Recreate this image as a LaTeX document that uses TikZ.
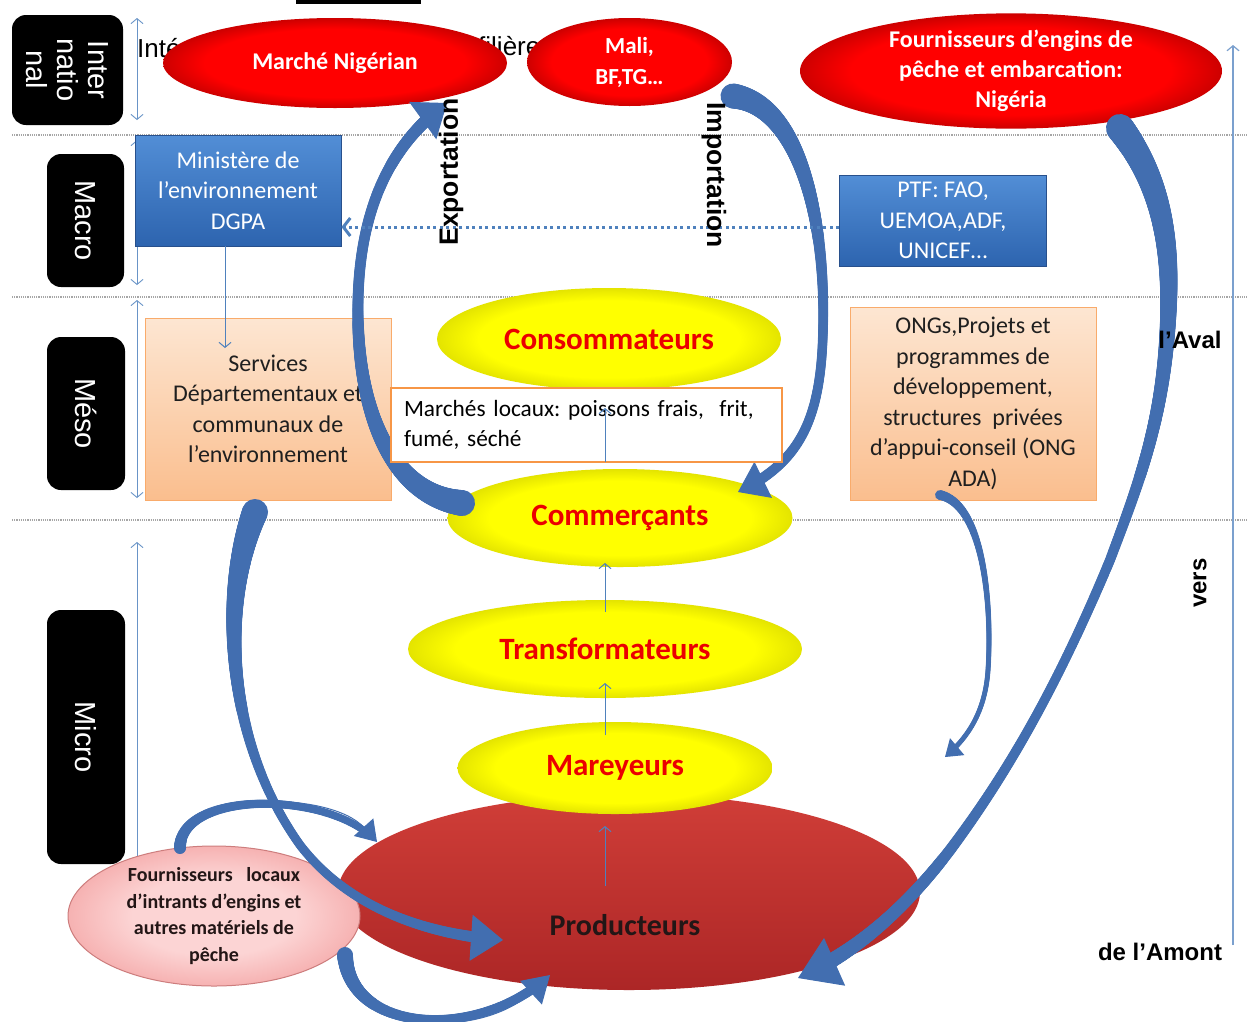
\documentclass[tikz,border=0pt]{standalone}
\usepackage{fontspec}
\setmainfont{Carlito}
\newfontfamily\arialf{Liberation Sans}
\usetikzlibrary{shapes.geometric,arrows.meta,decorations.markings}
\frenchspacing
\definecolor{bigblue}{RGB}{66,110,176}
\definecolor{thinblue}{RGB}{79,129,189}
\definecolor{redA}{RGB}{255,0,0}
\definecolor{redB}{RGB}{205,0,0}
\definecolor{yelA}{RGB}{255,255,0}
\definecolor{yelB}{RGB}{228,228,0}
\definecolor{txtred}{RGB}{235,0,0}
\definecolor{prodA}{RGB}{208,62,56}
\definecolor{prodB}{RGB}{172,38,38}
\definecolor{pinkA}{RGB}{252,212,212}
\definecolor{pinkB}{RGB}{246,178,178}
\definecolor{pinkE}{RGB}{205,125,125}
\definecolor{boxblueA}{RGB}{82,142,214}
\definecolor{boxblueB}{RGB}{45,100,175}
\definecolor{boxblueE}{RGB}{40,80,140}
\definecolor{peachA}{RGB}{253,230,210}
\definecolor{peachB}{RGB}{250,190,142}
\definecolor{orangeE}{RGB}{247,150,70}
\definecolor{darktxt}{RGB}{35,22,22}
\pgfdeclareradialshading{redglow}{\pgfpoint{0bp}{0bp}}{color(0bp)=(redA); color(19bp)=(redA); color(25bp)=(redB); color(50bp)=(redB)}
\pgfdeclareradialshading{yelglow}{\pgfpoint{0bp}{0bp}}{color(0bp)=(yelA); color(19bp)=(yelA); color(25bp)=(yelB); color(50bp)=(yelB)}
\pgfdeclareradialshading{pinkglow}{\pgfpoint{0bp}{0bp}}{color(0bp)=(pinkA); color(14bp)=(pinkA); color(25bp)=(pinkB); color(50bp)=(pinkB)}
\begin{document}
\begin{tikzpicture}[x=1pt,y=-1pt,
  sepline/.style={draw=gray!70, line width=1.2pt, densely dotted},
  lvlarrow/.style={draw=thinblue!85, line width=0.9pt, {Straight Barb[length=5pt,width=12pt]}-{Straight Barb[length=5pt,width=12pt]}},
  thinarrow/.style={draw=thinblue, line width=1pt, -{Straight Barb[length=5pt,width=12pt]}},
  dotarrow/.style={draw=thinblue, line width=3pt, dash pattern=on 3pt off 3.5pt, -{Straight Barb[length=7pt,width=18pt]}},
  lvlbox/.style={fill=black, rounded corners=14pt, text=white, rotate=-90, align=center, inner sep=0pt, font=\arialf\fontsize{29}{31}\selectfont},
  redell/.style={ellipse, inner sep=0pt, shade, shading=redglow, text=white, align=center, font=\bfseries\fontsize{24}{30}\selectfont},
  yelell/.style={ellipse, inner sep=0pt, shade, shading=yelglow, text=txtred, align=center, font=\bfseries\fontsize{31}{36}\selectfont},
  pinkell/.style={ellipse, inner sep=0pt, shade, shading=pinkglow, draw=pinkE, line width=1pt, text=darktxt, align=center, font=\bfseries\fontsize{20}{26.5}\selectfont},
  prodell/.style={ellipse, inner sep=0pt, top color=prodA, bottom color=prodB},
  bluebox/.style={rectangle, inner sep=0pt, top color=boxblueA, bottom color=boxblueB, draw=boxblueE, line width=0.8pt, text=white, align=center, font=\fontsize{24}{30.5}\selectfont},
  peachbox/.style={rectangle, inner sep=0pt, top color=peachA, bottom color=peachB, draw=orangeE!80, line width=0.8pt, text=black!88, align=center, font=\fontsize{24}{30.5}\selectfont},
  mlocbox/.style={rectangle, fill=white, draw=orangeE, line width=2.5pt, text width=365pt, align=left, inner xsep=13pt, inner ysep=0pt, font=\fontsize{23.3}{30}\selectfont},
  arialbold/.style={inner sep=0pt, font=\arialf\bfseries\fontsize{26.5}{30}\selectfont},
  arialreg/.style={inner sep=0pt, font=\arialf\fontsize{26}{30}\selectfont},
  bigarrow/.style={draw=bigblue, line width=1pt},
  taper/.style n args={4}{postaction={decorate, decoration={markings,
     mark=between positions 0 and -#4 step 1pt with {
       \pgfmathsetmacro\tpos{\pgfkeysvalueof{/pgf/decoration/mark info/distance from start}/\pgfdecoratedpathlength}
       \pgfmathsetmacro\trad{0.5*(#2+(#1-#2)*(1-\tpos)^4+(#3-#2)*\tpos^4)}
       \fill[bigblue] (0,0) circle[radius=\trad pt];
     }}}}
]
\useasboundingbox (0,0) rectangle (1247,1021);
\fill[white] (0,0) rectangle (1247,1021);

% level separators
\draw[sepline] (12,135) -- (1247,135);
\draw[sepline] (12,297) -- (1247,297);
\draw[sepline] (12,520) -- (1247,520);

% cut-off title remnants
\fill[black] (296,0) rectangle (421,4);
\node[arialreg, anchor=base west] (tint) at (137,57) {Inté};
\node[arialreg, anchor=base west] (tfil) at (478,55) {filière};

% level arrows
\draw[lvlarrow] (137,18) -- (137,120);
\draw[lvlarrow] (137,140) -- (137,285);
\draw[lvlarrow] (137,300) -- (137,498);
\draw[lvlarrow] (137,542) -- (137,900);
\draw[thinblue!75, line width=1.2pt, -{Straight Barb[length=5pt,width=12pt]}] (1233,945) -- (1233,45);

% level labels
\node[lvlbox, minimum width=110pt, minimum height=111pt] (lint) at (67.5,70) {Inter\\natio\\nal};
\node[lvlbox, minimum width=133pt, minimum height=77pt] (lmac) at (85.5,220.5) {Macro};
\node[lvlbox, minimum width=153pt, minimum height=78pt] (lmes) at (86,413.5) {Méso};
\node[lvlbox, minimum width=254pt, minimum height=78pt] (lmic) at (86,737) {Micro};

% international actors
\node[redell, minimum width=344pt, minimum height=90pt] (nig) at (335,63) {Marché Nigérian};
\node[redell, minimum width=205pt, minimum height=88pt, font=\bfseries\fontsize{23}{31}\selectfont] (mali) at (629.5,62) {Mali,\\BF,TG…};
\node[redell, minimum width=422pt, minimum height=107pt] (fourn) at (1011,71) {Fournisseurs d’engins de\\pêche et embarcation:\\Nigéria};

% macro
\node[bluebox, minimum width=206pt, minimum height=111pt] (min) at (238,190.5) {Ministère de\\l’environnement\\DGPA};
\node[bluebox, minimum width=207pt, minimum height=91pt] (ptf) at (943,220.5) {PTF: FAO,\\UEMOA,ADF,\\UNICEF…};

% meso
\node[peachbox, minimum width=246pt, minimum height=182pt] (serv) at (268,409) {Services\\Départementaux et\\communaux de\\l’environnement};
\node[peachbox, minimum width=246pt, minimum height=193pt] (ong) at (973,403.5) {ONGs,Projets et\\programmes de\\développement,\\structures~ privées\\d’appui-conseil (ONG\\ADA)};

% chain
\node[prodell, minimum width=582pt, minimum height=196pt] (prod) at (629,892) {};
\node[inner sep=0pt, text=darktxt, font=\bfseries\fontsize{30}{34}\selectfont] (prodlbl) at (625,925) {Producteurs};
\node[pinkell, minimum width=292pt, minimum height=140pt] (four) at (214,916) {Fournisseurs~~ locaux\\d’intrants d’engins et\\autres matériels de\\pêche};
\node[yelell, minimum width=344pt, minimum height=102pt] (cons) at (609,339) {Consommateurs};
\node[yelell, minimum width=345pt, minimum height=98pt] (comm) at (620,518) {Commerçants};
\node[yelell, minimum width=394pt, minimum height=98pt] (trans) at (605,649) {Transformateurs};
\node[yelell, minimum width=315pt, minimum height=92pt] (mar) at (615,768) {Mareyeurs};

% big curved arrows
\coordinate (a1s) at (462,503); \coordinate (a1e) at (447,103);
\draw[bigarrow, -{Triangle[length=30pt,width=46pt]}, taper={26}{10}{13}{18pt}]
  (a1s) .. controls (395,495) and (360,420) .. (358,320) .. controls (356,220) and (385,148) .. (a1e);
\coordinate (a2s) at (733,96); \coordinate (a2e) at (738,492);
\draw[bigarrow, -{Triangle[length=28pt,width=40pt]}, taper={25}{9}{11}{16pt}]
  (a2s) .. controls (800,105) and (826,220) .. (823,330) .. controls (821,420) and (800,462) .. (a2e);
\coordinate (a3s) at (1120,128); \coordinate (a3e) at (798,978);
\draw[bigarrow, -{Triangle[length=40pt,width=52pt]}, taper={28}{8}{16}{24pt}]
  (a3s) .. controls (1160,180) and (1172,240) .. (1168,320) .. controls (1163,420) and (1140,480) .. (1110,560)
  .. controls (1060,680) and (1010,770) .. (950,850) .. controls (900,915) and (850,955) .. (a3e);
\coordinate (a4s) at (940,495); \coordinate (a4e) at (945,757);
\draw[bigarrow, -{Triangle[length=16pt,width=22pt]}, taper={10}{5}{5}{10pt}]
  (a4s) .. controls (985,505) and (992,610) .. (988,670) .. controls (985,715) and (965,740) .. (a4e);
\coordinate (a5s) at (255,512); \coordinate (a5e) at (503,940);
\draw[bigarrow, -{Triangle[length=32pt,width=46pt]}, taper={26}{8}{12}{20pt}]
  (a5s) .. controls (220,600) and (225,740) .. (300,845) .. controls (350,910) and (430,935) .. (a5e);
\coordinate (a6s) at (180,848); \coordinate (a6e) at (377,842);
\draw[bigarrow, -{Triangle[length=20pt,width=26pt]}, taper={12}{8}{7}{12pt}]
  (a6s) .. controls (180,790) and (330,790) .. (a6e);
\coordinate (a7s) at (345,955); \coordinate (a7e) at (550,975);
\draw[bigarrow, -{Triangle[length=26pt,width=32pt]}, taper={16}{9}{10}{15pt}]
  (a7s) .. controls (350,1035) and (480,1040) .. (a7e);

% local markets box
\node[mlocbox, minimum height=74pt] (mloc) at (586.5,425) {Marchés locaux: poissons frais,~ frit,\\fumé, séché};

% thin arrows
\coordinate (servin) at (225,348);
\draw[thinarrow] (min.south -| servin) -- (servin);
\coordinate (p1) at (605,886); \coordinate (p2) at (605,826);
\draw[thinarrow] (p1) -- (p2);
\coordinate (m1) at (605,735); \coordinate (m2) at (605,683);
\draw[thinarrow] (m1) -- (m2);
\coordinate (t1) at (605,612); \coordinate (t2) at (605,563);
\draw[thinarrow] (t1) -- (t2);
\coordinate (k1) at (605,462); \coordinate (k2) at (605,408);
\draw[thinarrow] (k1) -- (k2);
\draw[dotarrow] ([yshift=-6.5pt]ptf.west) -- ([yshift=-6.5pt]ptf.west -| min.east);

% side labels
\node[arialbold, rotate=90] (exp) at (451,172) {Exportation};
\node[arialbold, rotate=-90] (imp) at (714,175) {Importation};
\node[arialbold, font=\arialf\bfseries\fontsize{24}{28}\selectfont] (aval) at (1190,340) {l’Aval};
\node[arialbold, font=\arialf\bfseries\fontsize{24}{28}\selectfont, rotate=90] (vers) at (1200,583) {vers};
\node[arialbold, font=\arialf\bfseries\fontsize{24}{28}\selectfont] (amont) at (1160,952) {de l’Amont};
\end{tikzpicture}
\end{document}
